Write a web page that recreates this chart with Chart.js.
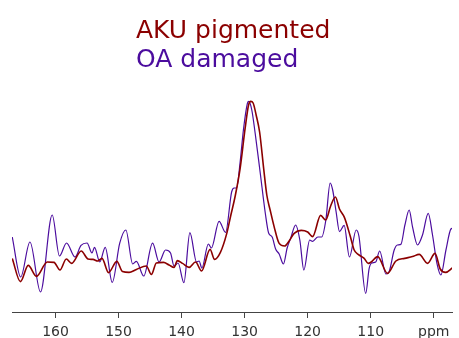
<!DOCTYPE html>
<html>
<head>
<meta charset="utf-8">
<script src="https://cdn.jsdelivr.net/npm/chart.js@4/dist/chart.umd.min.js"></script>
<style>
    body { margin: 0; background: #ffffff; }
    #SpectrumCanvas { display: block; }
</style>
</head>
<body>
<canvas id="SpectrumCanvas" width="459" height="338"></canvas>
<script>
// Chemical shift (ppm) and intensity (a.u.) for each trace
const akuShift = [
    166.86, 165.56, 164.33, 163.02, 161.3, 160.24, 159.29, 158.29, 157.43, 155.92,
    154.84, 154.05, 153.3, 152.62, 151.59, 150.27, 149.37, 148.33, 147.17, 145.59,
    144.79, 144.0, 142.86, 141.98, 141.19, 140.67, 139.84, 138.81, 137.78, 136.83,
    135.48, 134.76, 133.84, 132.83, 132.25, 131.46, 130.71, 129.92, 129.37, 129.02,
    128.65, 128.17, 127.62, 126.98, 126.48, 125.95, 125.32, 124.52, 123.65, 122.94,
    122.14, 121.03, 120.0, 119.21, 117.94, 117.14, 116.35, 115.6, 114.95, 114.17,
    113.25, 112.62, 111.98, 111.03, 110.4, 109.92, 108.89, 107.33, 106.0, 104.6,
    103.37, 102.3, 100.98, 99.79, 98.97, 98.1, 97.06
];
const akuIntensity = [
    20.8, 9.2, 17.3, 11.8, 19.0, 18.8, 15.0, 20.5, 18.3, 24.5,
    20.5, 20.3, 19.5, 20.8, 13.7, 19.3, 14.2, 13.8, 15.3, 17.0,
    12.8, 18.5, 18.8, 17.5, 16.3, 19.7, 18.3, 16.3, 19.0, 14.5,
    25.3, 20.3, 23.8, 33.3, 41.5, 52.5, 65.8, 85.8, 97.5, 99.3,
    98.5, 92.5, 84.0, 65.8, 52.5, 45.0, 36.7, 28.3, 27.0, 29.5,
    33.3, 34.8, 34.0, 31.7, 42.3, 40.0, 47.0, 51.5, 45.5, 41.3,
    32.0, 25.0, 22.8, 20.8, 18.3, 19.0, 21.7, 13.3, 19.5, 20.8,
    21.7, 22.8, 18.3, 23.3, 15.5, 13.8, 16.0
];

const oaShift = [
    166.86, 165.52, 164.05, 162.38, 160.52, 159.37, 158.25, 156.9, 155.95, 155.0,
    154.21, 153.81, 152.98, 152.11, 151.0, 149.81, 148.84, 147.75, 147.17, 146.0,
    144.6, 143.57, 142.54, 141.75, 141.19, 140.56, 139.63, 138.68, 137.62, 137.22,
    136.78, 135.75, 135.27, 134.05, 133.02, 132.06, 131.67, 131.27, 130.71, 130.19,
    129.56, 129.33, 128.86, 128.33, 127.54, 126.7, 126.19, 125.63, 125.08, 124.52,
    123.84, 123.25, 122.7, 121.9, 121.24, 120.6, 119.68, 119.21, 118.38, 117.78,
    117.11, 116.43, 116.03, 115.48, 114.95, 114.21, 113.37, 112.3, 111.87, 110.79,
    110.24, 109.84, 109.21, 108.57, 107.59, 107.06, 106.27, 105.75, 105.21, 104.57,
    103.89, 103.37, 102.57, 101.78, 100.87, 100.19, 99.49, 98.86, 98.06, 97.27,
    97.02
];
const oaIntensity = [
    31.5, 11.5, 29.0, 4.0, 42.5, 22.0, 28.5, 21.5, 27.3, 28.5,
    23.5, 26.3, 19.0, 26.3, 8.8, 28.4, 35.0, 18.0, 19.3, 12.0,
    28.4, 19.0, 25.0, 23.5, 17.0, 18.5, 8.7, 33.7, 19.0, 19.5,
    16.0, 28.0, 26.0, 39.3, 33.8, 54.0, 56.0, 56.0, 69.0, 85.0,
    98.3, 99.3, 95.0, 83.5, 64.0, 43.0, 33.5, 31.5, 25.5, 23.0,
    18.0, 26.0, 30.8, 37.5, 30.0, 15.0, 30.0, 29.3, 31.5, 31.5,
    40.0, 58.5, 55.0, 44.0, 34.2, 37.3, 21.5, 35.0, 32.0, 3.3,
    15.8, 18.5, 19.0, 24.5, 13.0, 14.3, 25.0, 27.5, 27.8, 37.5,
    45.0, 36.7, 27.5, 32.5, 43.3, 32.5, 18.3, 12.5, 25.0, 35.5,
    35.8
];

const tickValues = [160, 150, 140, 130, 120, 110, 100];

const akuColor = "#8b0000";
const oaColor = "#4b0c9e";

function toPoints(xs, ys){
    return xs.map((x, i) => ({ x: x, y: ys[i] }));
}

// Sample names written as coloured text above the peak
const sampleNames = {
    id: "sampleNames",
    afterDraw(chart){
        const ctx = chart.ctx;
        ctx.save();
        ctx.font = "25px 'DejaVu Sans'";
        ctx.textAlign = "left";
        ctx.textBaseline = "alphabetic";
        ctx.fillStyle = akuColor;
        ctx.fillText("AKU pigmented", 136, 38);
        ctx.fillStyle = oaColor;
        ctx.fillText("OA damaged", 136, 67);
        ctx.restore();
    }
};

function initSpectrum(){
    const ctx = document.getElementById("SpectrumCanvas").getContext("2d");

    new Chart(ctx, {
        type: 'line',
        data: {
            datasets: [{
                label: "AKU pigmented",
                data: toPoints(akuShift, akuIntensity),
                borderColor: akuColor,
                borderWidth: 1.6,
                pointRadius: 0,
                cubicInterpolationMode: 'monotone'
            }, {
                label: "OA damaged",
                data: toPoints(oaShift, oaIntensity),
                borderColor: oaColor,
                borderWidth: 1.2,
                pointRadius: 0,
                cubicInterpolationMode: 'monotone'
            }]
        },
        options: {
            animation: false,
            responsive: false,
            layout: { padding: { left: 12, right: 7, top: 90, bottom: 0 } },
            plugins: {
                legend: { display: false },
                tooltip: { enabled: false }
            },
            scales: {
                x: {
                    type: 'linear',
                    reverse: true,
                    min: 97.1,
                    max: 166.9,
                    afterBuildTicks: (scale) => {
                        scale.ticks = tickValues.map(v => ({ value: v }));
                    },
                    afterFit: (scale) => { scale.height = 26; },
                    grid: {
                        drawOnChartArea: false,
                        drawTicks: true,
                        tickLength: 6,
                        color: "#444444"
                    },
                    border: { display: true, color: "#444444", width: 1 },
                    ticks: {
                        autoSkip: false,
                        maxRotation: 0,
                        padding: 6,
                        color: "#333333",
                        font: { family: "'DejaVu Sans'", size: 14 },
                        callback: (value) => value === 100 ? "ppm" : value
                    }
                },
                y: {
                    display: false,
                    min: -6,
                    max: 105
                }
            }
        },
        plugins: [sampleNames]
    });
}

window.addEventListener('load', initSpectrum);
</script>
</body>
</html>
